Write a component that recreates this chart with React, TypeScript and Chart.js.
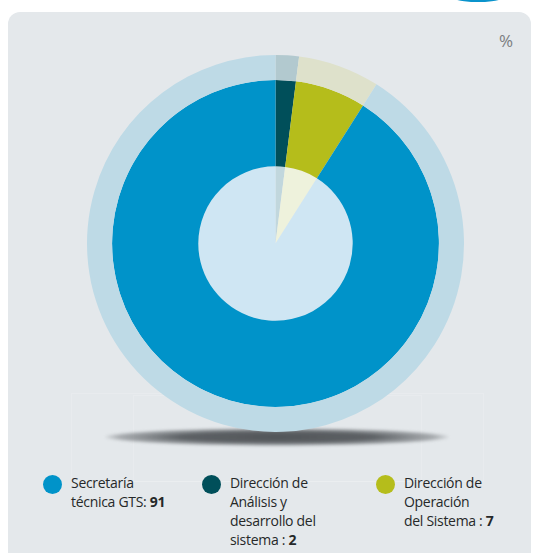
import React, { useEffect, useRef } from "react";
import { Chart, registerables } from "chart.js";

Chart.register(...registerables);

const categories = ["Dirección de Análisis y desarrollo del sistema", "Dirección de Operación del Sistema", "Secretaría técnica GTS"];
const values = [2, 7, 91];
const solidColors = ["#004f5a", "#b5bd1b", "#0093c9"];
const outerColors = ["#b2c9cf", "#dee1cb", "#bedae6"];
const innerColors = ["#c1d7dd", "#eef2dc", "#cfe6f3"];

const legendLines = [
  { color: "#0093c9", lines: ["Secretaría", "técnica GTS: "], value: "91" },
  { color: "#004f5a", lines: ["Dirección de", "Análisis y", "desarrollo del", "sistema : "], value: "2" },
  { color: "#b5bd1b", lines: ["Dirección de", "Operación", "del Sistema : "], value: "7" },
];
const legendX = [43, 202, 376];

export default function App() {
  const ref = useRef<HTMLCanvasElement | null>(null);
  useEffect(() => {
    if (!ref.current) return;
    const chart = new Chart(ref.current, {
      type: "doughnut",
      data: {
        labels: categories,
        datasets: [
          { data: values, backgroundColor: outerColors, borderWidth: 0, weight: 25 } as any,
          { data: values, backgroundColor: solidColors, borderWidth: 0, weight: 86 } as any,
          { data: values, backgroundColor: innerColors, borderWidth: 0, weight: 77 } as any,
        ],
      },
      options: {
        responsive: false,
        animation: false,
        cutout: 0,
        layout: { padding: 0 },
        plugins: { legend: { display: false }, tooltip: { enabled: false } },
      },
    });
    return () => chart.destroy();
  }, []);

  const font = "'Open Sans', 'Noto Sans', sans-serif";
  return (
    <div style={{ position: "absolute", left: 0, top: 0, width: 535, height: 553, overflow: "hidden", background: "#fff", fontFamily: font }}>
      <div style={{ position: "absolute", left: 442, top: -20, width: 72, height: 22, borderRadius: "50%", background: "#0a93cc" }} />
      <div style={{ position: "absolute", left: 8, top: 12, width: 523, height: 560, borderRadius: 12, background: "#e4e8eb" }} />
      <div style={{ position: "absolute", left: 71, top: 393, width: 411, height: 87, border: "1px solid rgba(255,255,255,0.15)" }} />
      <div style={{ position: "absolute", left: 133, top: 395, width: 287, height: 85, border: "1px solid rgba(255,255,255,0.15)" }} />
      <div style={{ position: "absolute", left: 499, top: 29, fontSize: 17, color: "#7a7d80" }}>%</div>
      <div style={{ position: "absolute", left: 105, top: 428, width: 344, height: 18, borderRadius: "50%", background: "radial-gradient(ellipse at center, rgba(80,84,88,1) 0%, rgba(85,89,93,0.95) 40%, rgba(110,114,118,0.5) 65%, rgba(228,232,235,0) 72%)", filter: "blur(1.5px)" }} />
      <canvas ref={ref} width={377} height={377} style={{ position: "absolute", left: 87, top: 55, width: 377, height: 377 }} />
      {legendLines.map((item, i) => (
        <div key={i} style={{ position: "absolute", left: legendX[i], top: 475 }}>
          <div style={{ position: "absolute", left: 0, top: 0, width: 19, height: 19, borderRadius: "50%", background: item.color }} />
          <div style={{ position: "absolute", left: 28, top: -2, fontSize: 14, lineHeight: "19px", color: "#262829", whiteSpace: "nowrap", letterSpacing: -0.3 }}>
            {item.lines.map((l, j) => (
              <div key={j}>
                {l}
                {j === item.lines.length - 1 ? <b>{item.value}</b> : null}
              </div>
            ))}
          </div>
        </div>
      ))}
    </div>
  );
}
